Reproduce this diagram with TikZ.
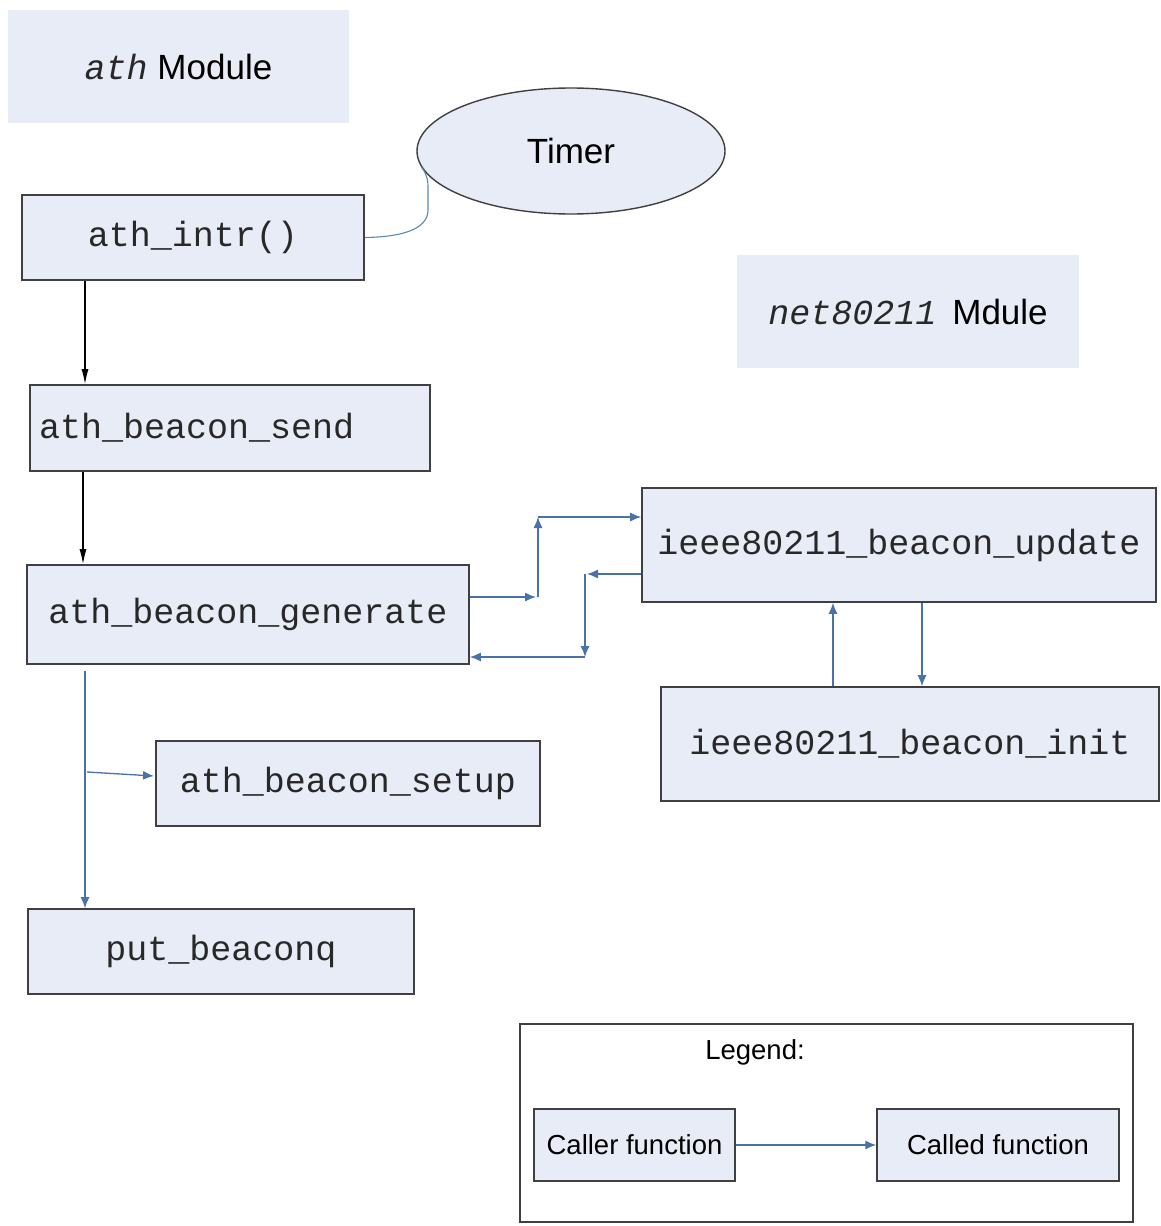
\documentclass[tikz,border=0pt]{standalone}
\usepackage{fontspec}
\setmainfont{Liberation Sans}
\setmonofont{Liberation Mono}
\usetikzlibrary{arrows.meta,shapes.geometric}

\definecolor{boxcol}{RGB}{232,236,247}
\definecolor{edgecol}{RGB}{64,64,64}
\definecolor{textcol}{RGB}{40,40,40}
\definecolor{callblue}{RGB}{74,114,170}
\definecolor{timerblue}{RGB}{90,138,176}

\newcommand\bigtext{\fontsize{35}{40}\selectfont}
\newcommand\smalltext{\fontsize{27.5}{32}\selectfont}

\begin{document}
\begin{tikzpicture}[x=1pt,y=-1pt,
  fnbox/.style={draw=edgecol, line width=1.6pt, fill=boxcol, inner sep=0pt,
    font=\bigtext\ttfamily, text=textcol, align=center},
  modbox/.style={fill=boxcol, inner sep=0pt, font=\bigtext},
  legbox/.style={draw=edgecol, line width=1.4pt, fill=boxcol, inner sep=0pt,
    font=\smalltext},
  blackarrow/.style={draw=black, line width=1.3pt,
    -{Latex[length=15pt,width=7pt]}},
  callarrow/.style={draw=callblue, line width=1.3pt,
    -{Latex[length=11pt,width=9pt]}},
  timerline/.style={draw=timerblue, line width=1.1pt}
]
\useasboundingbox (0,0) rectangle (1160,1226);
\fill[white] (0,0) rectangle (1160,1226);

% module headings
\node[modbox, minimum width=341, minimum height=113] (modath) at (178.5,66.5)
  {{\ttfamily\itshape\color{textcol}ath} Module};
\node[modbox, minimum width=342, minimum height=113] (modnet) at (908,311.5)
  {{\ttfamily\itshape\color{textcol}net80211}\hspace{16pt}Mdule};

% timer
\node[ellipse, draw=edgecol, line width=1.4pt, fill=boxcol,
  minimum width=308, minimum height=126, inner sep=0pt, font=\bigtext]
  (timer) at (571,151) {Timer};

% function boxes
\node[fnbox, minimum width=342, minimum height=85] (intr) at (193,237.5) {ath\_intr()};
\node[fnbox, text width=382, inner xsep=9pt, minimum height=86, align=left]
  (send) at (230,428) {ath\_beacon\_send};
\node[fnbox, minimum width=442, minimum height=99] (gen) at (248,614.5) {ath\_beacon\_generate};
\node[fnbox, minimum width=514, minimum height=114] (update) at (899,545) {ieee80211\_beacon\_update};
\node[fnbox, minimum width=498, minimum height=114] (init) at (910,744) {ieee80211\_beacon\_init};
\node[fnbox, minimum width=384, minimum height=85] (setup) at (348,783.5) {ath\_beacon\_setup};
\node[fnbox, minimum width=386, minimum height=85] (putq) at (221,951.5) {put\_beaconq};

% timer to interrupt handler
\draw[timerline] (intr.east) .. controls (400,237) and (428,230) .. (428,210)
  -- (428,186) .. controls (428,176) and (423,169) .. (timer.186);

% black call chain
\coordinate (colA) at (85,0);
\coordinate (colB) at (83,0);
\draw[blackarrow] (intr.south -| colA) -- (send.north -| colA);
\draw[blackarrow] (send.south -| colB) -- (gen.north -| colB);

% generate <-> update
\coordinate (j1) at (538,597);
\coordinate (j2) at (538,517);
\coordinate (j3) at (585,574);
\coordinate (j4) at (585,657);
\draw[callarrow] (gen.east |- j1) -- ([xshift=-2pt]j1);
\draw[callarrow] (j1) -- (j2);
\draw[callarrow] (j2) -- (update.west |- j2);
\draw[callarrow] (update.west |- j3) -- ([xshift=2pt]j3);
\draw[callarrow] (j3) -- (j4);
\draw[callarrow] (j4) -- (gen.east |- j4);

% update <-> init
\coordinate (colC) at (833,0);
\coordinate (colD) at (922,0);
\draw[callarrow] (init.north -| colC) -- (update.south -| colC);
\draw[callarrow] (update.south -| colD) -- (init.north -| colD);

% generate -> setup, putq
\coordinate (colE) at (85,0);
\coordinate (br) at (87,772);
\coordinate (st) at (154,776);
\draw[callarrow] ([yshift=-6pt]gen.south -| colE) -- (putq.north -| colE);
\draw[callarrow] (br) -- (st);

% legend
\node[draw=edgecol, line width=1.4pt, fill=white, minimum width=613,
  minimum height=198, inner sep=0pt] (legend) at (826.5,1123) {};
\node[font=\smalltext] (legtitle) at (755,1052) {Legend:};
\node[legbox, minimum width=201, minimum height=72] (caller) at (634.5,1145) {Caller function};
\node[legbox, minimum width=242, minimum height=72] (called) at (998,1145) {Called function};
\draw[callarrow] (caller) -- (called);
\end{tikzpicture}
\end{document}
